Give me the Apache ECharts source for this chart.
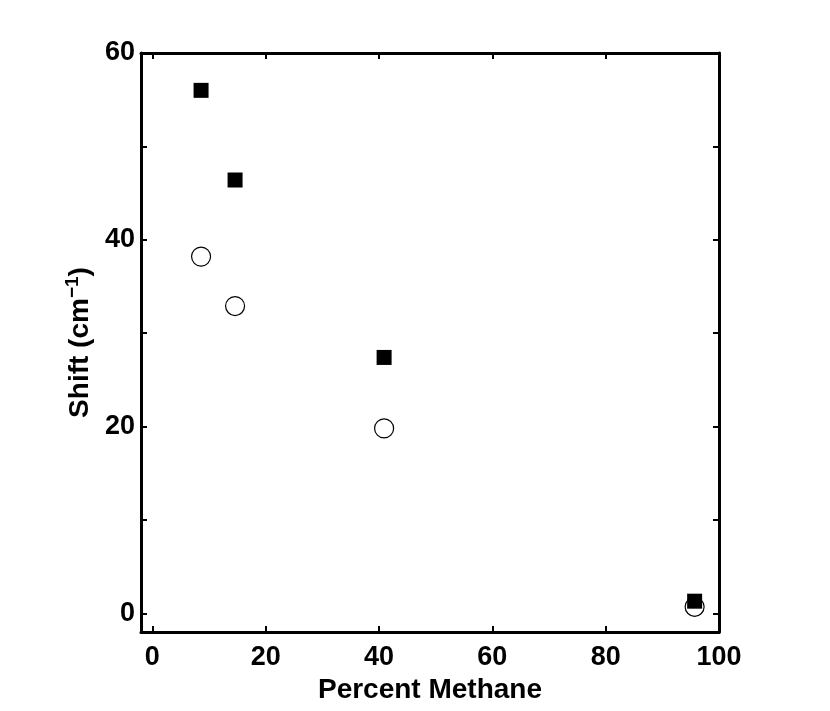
<!DOCTYPE html>
<html>
<head>
<meta charset="utf-8">
<script src="https://cdn.jsdelivr.net/npm/echarts@6/dist/echarts.min.js"></script>
<style>html,body{margin:0;padding:0;background:#fff}#c{width:830px;height:711px}</style>
</head>
<body>
<div id="c"></div>
<script>
var percentMethane = [8.6, 14.6, 40.9, 95.7];
var shiftSquares = [56.0, 46.4, 27.4, 1.3];
var shiftCircles = [38.2, 32.9, 19.8, 0.7];
var xTickLabels = [0, 20, 40, 60, 80, 100];
var yTickLabels = [0, 20, 40, 60];
var yTicks = [0, 10, 20, 30, 40, 50, 60];

function pairs(xs, ys) { return xs.map(function (x, i) { return [x, ys[i]]; }); }

var font = 'Liberation Sans, Arial, Helvetica, sans-serif';
var axisLine = { show: true, onZero: false, lineStyle: { color: '#000', width: 3 } };
var tickStyle = { show: true, inside: true, length: 6, lineStyle: { color: '#000', width: 2 } };

var chart = echarts.init(document.getElementById('c'));
chart.setOption({
  backgroundColor: '#fff',
  animation: false,
  grid: { left: 141, right: 111, top: 53, bottom: 79, containLabel: false },
  xAxis: [{
    type: 'value', min: -2, max: 100, position: 'bottom',
    axisLine: axisLine,
    axisTick: Object.assign({}, tickStyle, { customValues: xTickLabels }),
    axisLabel: { customValues: xTickLabels, color: '#000', fontSize: 27, fontWeight: 'bold', fontFamily: font, margin: 12 },
    splitLine: { show: false },
    name: 'Percent Methane', nameLocation: 'middle', nameGap: 37,
    nameTextStyle: { color: '#000', fontSize: 28, fontWeight: 'bold', fontFamily: font }
  }, {
    type: 'value', min: -2, max: 100, position: 'top',
    axisLine: axisLine,
    axisTick: Object.assign({}, tickStyle, { customValues: xTickLabels }),
    axisLabel: { show: false },
    splitLine: { show: false }
  }],
  yAxis: [{
    type: 'value', min: -2, max: 60, position: 'left',
    axisLine: axisLine,
    axisTick: Object.assign({}, tickStyle, { customValues: yTicks }),
    axisLabel: { customValues: yTickLabels, color: '#000', fontSize: 27, fontWeight: 'bold', fontFamily: font, margin: 6 },
    splitLine: { show: false },
    name: 'Shift (cm{sup|−1})', nameLocation: 'middle', nameGap: 44, nameRotate: 90,
    nameTextStyle: {
      color: '#000', fontSize: 28, fontWeight: 'bold', fontFamily: font,
      rich: { sup: { fontSize: 19, fontWeight: 'bold', fontFamily: font, color: '#000', verticalAlign: 'top', padding: [0, 0, 14, 0] } }
    }
  }, {
    type: 'value', min: -2, max: 60, position: 'right',
    axisLine: axisLine,
    axisTick: Object.assign({}, tickStyle, { customValues: yTicks }),
    axisLabel: { show: false },
    splitLine: { show: false }
  }],
  series: [{
    type: 'scatter', xAxisIndex: 0, yAxisIndex: 0,
    data: pairs(percentMethane, shiftCircles),
    symbol: 'circle', symbolSize: 19,
    itemStyle: { color: '#fff', borderColor: '#000', borderWidth: 1.2, opacity: 1 }
  }, {
    type: 'scatter', xAxisIndex: 0, yAxisIndex: 0,
    data: pairs(percentMethane, shiftSquares),
    symbol: 'rect', symbolSize: 15,
    itemStyle: { color: '#000', opacity: 1 }
  }]
});
</script>
</body>
</html>
